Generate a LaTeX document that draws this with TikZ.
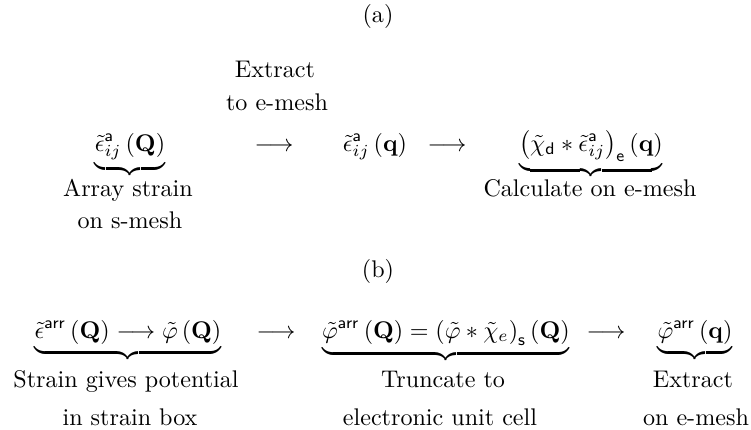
\documentclass[tikz,border=0pt]{standalone}
\usepackage{amsmath}
\begin{document}
\begin{tikzpicture}[x=0.415pt,y=-0.415pt,
  every node/.style={inner sep=0pt,outer sep=0pt,anchor=base},
  lbl/.style={},
  mth/.style={}]
\useasboundingbox (0,0) rectangle (751,429);
% panel (a)
\node[lbl] (tA) at (378,22) {(a)};
\node[lbl] (ex1) at (275,77) {Extract};
\node[lbl] (ex2) at (277,110) {to e-mesh};
\node[mth] (a1) at (130,151) {$\displaystyle\underbrace{\tilde\epsilon^{\mathsf a}_{ij}\left(\mathbf Q\right)}$};
\node[mth] (ar1) at (274,151) {$\longrightarrow$};
\node[mth] (a2) at (375,151) {$\displaystyle\tilde\epsilon^{\mathsf a}_{ij}\left(\mathbf q\right)$};
\node[mth] (ar2) at (447,151) {$\longrightarrow$};
\node[mth] (a3) at (591,151) {$\displaystyle\underbrace{\left(\tilde\chi_{\mathsf d}*\tilde\epsilon^{\mathsf a}_{ij}\right)_{\mathsf e}\left(\mathbf q\right)}$};
\node[lbl] (la1) at (128,196) {Array strain};
\node[lbl] (la2) at (130,228) {on s-mesh};
\node[lbl] (lc1) at (590,196) {Calculate on e-mesh};
% panel (b)
\node[lbl] (tB) at (378,277) {(b)};
\node[mth] (b1) at (128,338) {$\displaystyle\underbrace{\tilde\epsilon^{\mathsf{arr}}\left(\mathbf Q\right)\longrightarrow\tilde\varphi\left(\mathbf Q\right)}$};
\node[mth] (br1) at (276,338) {$\longrightarrow$};
\node[mth] (b2) at (446,338) {$\displaystyle\underbrace{\tilde\varphi^{\mathsf{arr}}\left(\mathbf Q\right)=\left(\tilde\varphi*\tilde\chi_{e}\right)_{\mathsf s}\left(\mathbf Q\right)}$};
\node[mth] (br2) at (606,338) {$\longrightarrow$};
\node[mth] (b3) at (695,338) {$\displaystyle\underbrace{\tilde\varphi^{\mathsf{arr}}\left(\mathbf q\right)}$};
\node[lbl] (lb1) at (126,387) {Strain gives potential};
\node[lbl] (lb2) at (130,425) {in strain box};
\node[lbl] (lt1) at (443,387) {Truncate to};
\node[lbl] (lt2) at (440,425) {electronic unit cell};
\node[lbl] (le1) at (693,387) {Extract};
\node[lbl] (le2) at (696,425) {on e-mesh};
\end{tikzpicture}
\end{document}
